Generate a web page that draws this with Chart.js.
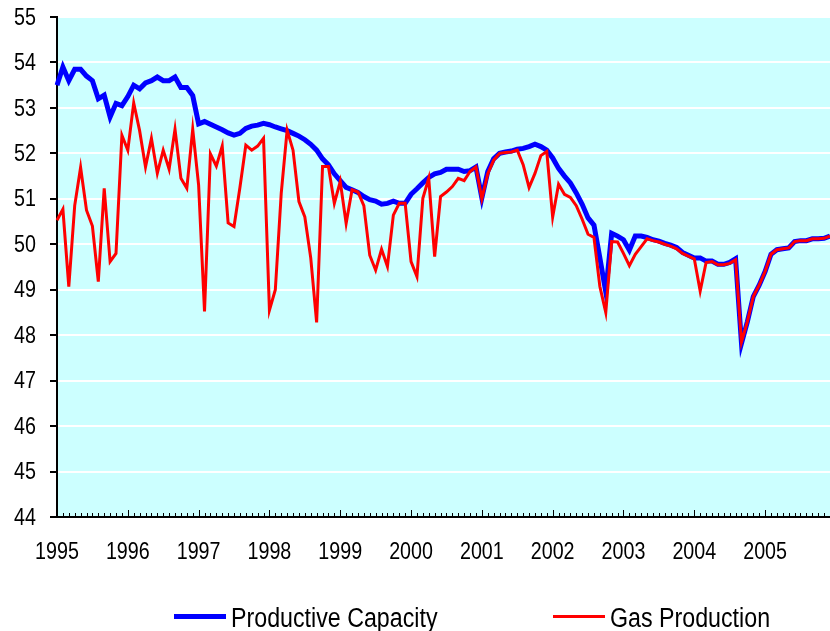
<!DOCTYPE html>
<html>
<head>
<meta charset="utf-8">
<script src="https://cdn.jsdelivr.net/npm/chart.js@4.4.1/dist/chart.umd.min.js"></script>
<style>
    body { margin: 0; background: #fff; }
    #wrap { position: relative; width: 830px; height: 631px; }
    #legend { position: absolute; left: 0; top: 602px; width: 830px; height: 31px;
              font-family: "Liberation Sans", Arial, sans-serif; font-size: 27px; color: #000; }
    .item { position: absolute; top: 0; white-space: nowrap; line-height: 31px; }
    .swatch { display: inline-block; vertical-align: middle; width: 52px; margin-right: 5px; position: relative; top: -2px; }
    .txt { display: inline-block; vertical-align: middle; transform: scaleX(0.86); transform-origin: left center; }
</style>
</head>
<body>
<div id="wrap">
    <canvas id="chart" width="830" height="631"></canvas>
    <div id="legend"></div>
</div>
<script>
var years = ['1995', '1996', '1997', '1998', '1999', '2000', '2001', '2002', '2003', '2004', '2005'];
var months = ['01', '02', '03', '04', '05', '06', '07', '08', '09', '10', '11', '12'];
var yTicks = [44, 45, 46, 47, 48, 49, 50, 51, 52, 53, 54, 55];

var capacity = [
    53.5, 53.9, 53.6, 53.85, 53.85, 53.7, 53.6, 53.2, 53.28, 52.8, 53.1, 53.05,
    53.25, 53.5, 53.42, 53.55, 53.6, 53.68, 53.6, 53.6, 53.68, 53.45, 53.45, 53.27,
    52.65, 52.7, 52.64, 52.58, 52.52, 52.45, 52.4, 52.44, 52.55, 52.6, 52.62, 52.66,
    52.63, 52.58, 52.54, 52.5, 52.44, 52.38, 52.3, 52.2, 52.07, 51.88, 51.75, 51.55,
    51.4, 51.25, 51.2, 51.14, 51.05, 50.98, 50.95, 50.88, 50.9, 50.95, 50.9, 50.9,
    51.1, 51.22, 51.35, 51.47, 51.55, 51.58, 51.65, 51.65, 51.65, 51.6, 51.62, 51.7,
    51.02, 51.6, 51.88, 52.0, 52.03, 52.05, 52.09, 52.11, 52.15, 52.2, 52.15, 52.07,
    51.9, 51.67, 51.5, 51.35, 51.13, 50.88, 50.58, 50.42, 49.7, 48.95, 50.24, 50.18,
    50.1, 49.87, 50.18, 50.18, 50.15, 50.1, 50.07, 50.02, 49.98, 49.93, 49.82, 49.76,
    49.7, 49.7, 49.63, 49.63, 49.56, 49.56, 49.6, 49.68, 47.82, 48.3, 48.85, 49.1,
    49.4, 49.78, 49.88, 49.9, 49.92, 50.06, 50.08, 50.08, 50.12, 50.12, 50.13, 50.18
];

var production = [
    50.53, 50.77, 49.07, 50.85, 51.69, 50.75, 50.4, 49.18, 51.23, 49.62, 49.8, 52.4,
    52.07, 53.11, 52.5, 51.7, 52.33, 51.56, 52.07, 51.65, 52.53, 51.45, 51.23, 52.53,
    51.3, 48.52, 51.99, 51.72, 52.16, 50.47, 50.39, 51.25, 52.18, 52.07, 52.16, 52.33,
    48.55, 49.0, 51.12, 52.51, 52.07, 50.94, 50.6, 49.7, 48.28, 51.71, 51.71, 50.9,
    51.38, 50.46, 51.2, 51.15, 50.85, 49.76, 49.43, 49.89, 49.51, 50.64, 50.9, 50.9,
    49.62, 49.29, 51.01, 51.45, 49.73, 51.05, 51.15, 51.27, 51.45, 51.4, 51.6, 51.7,
    51.0, 51.55, 51.85, 52.0, 52.02, 52.03, 52.07, 51.75, 51.25, 51.56, 51.95, 52.04,
    50.6, 51.32, 51.1, 51.03, 50.85, 50.55, 50.22, 50.15, 49.07, 48.5, 50.06, 50.05,
    49.8, 49.53, 49.78, 49.95, 50.12, 50.08, 50.05, 50.0, 49.96, 49.9, 49.8, 49.74,
    49.68, 48.97, 49.6, 49.62, 49.55, 49.55, 49.58, 49.66, 47.85, 48.3, 48.85, 49.1,
    49.4, 49.78, 49.88, 49.9, 49.92, 50.06, 50.08, 50.08, 50.12, 50.12, 50.13, 50.18
];

var seriesNames = ['Productive Capacity', 'Gas Production'];
var seriesColors = ['#0000FF', '#FF0000'];
var seriesWidths = [5, 3];

var labels = [];
years.forEach(function (y) {
    months.forEach(function (m) { labels.push(y + '-' + m); });
});

var font = '24px "Liberation Sans", Arial, sans-serif';
var squeeze = 0.82; // the original uses a narrow face

// light cyan plot area
var plotBg = {
    id: 'plotBg',
    beforeDraw: function (chart) {
        var a = chart.chartArea, ctx = chart.ctx;
        ctx.save();
        ctx.fillStyle = '#CCFFFF';
        ctx.fillRect(a.left, a.top, a.right - a.left, a.bottom - a.top);
        ctx.restore();
    }
};

function narrowText(ctx, text, x, y, align) {
    ctx.save();
    ctx.translate(x, y);
    ctx.scale(squeeze, 1);
    ctx.textAlign = align;
    ctx.fillText(text, 0, 0);
    ctx.restore();
}

// month tick marks pointing up into the plot, plus the axis labels
var axisExtras = {
    id: 'axisExtras',
    afterDraw: function (chart) {
        var xs = chart.scales.x, ys = chart.scales.y, ctx = chart.ctx;
        var bottom = chart.chartArea.bottom, left = chart.chartArea.left;
        ctx.save();
        ctx.strokeStyle = '#000';
        ctx.lineWidth = 1;
        for (var i = 0; i < labels.length; i++) {
            var x = Math.round(xs.getPixelForValue(i)) + 0.5;
            var len = (i % 12 === 0) ? 7 : 4;
            ctx.beginPath();
            ctx.moveTo(x, bottom);
            ctx.lineTo(x, bottom - len);
            ctx.stroke();
        }
        ctx.fillStyle = '#000';
        ctx.font = font;
        ctx.textBaseline = 'middle';
        for (var j = 0; j < labels.length; j += 12) {
            narrowText(ctx, labels[j].slice(0, 4), xs.getPixelForValue(j), bottom + 35, 'center');
        }
        yTicks.forEach(function (v) {
            narrowText(ctx, String(v), left - 21, ys.getPixelForValue(v) + 1, 'right');
        });
        ctx.restore();
    }
};

var datasets = [capacity, production].map(function (d, k) {
    return {
        label: seriesNames[k],
        data: d,
        borderColor: seriesColors[k],
        borderWidth: seriesWidths[k],
        pointRadius: 0,
        tension: 0,
        fill: false,
        order: 2 - k
    };
});

new Chart(document.getElementById('chart').getContext('2d'), {
    type: 'line',
    data: { labels: labels, datasets: datasets },
    plugins: [plotBg, axisExtras],
    options: {
        responsive: false,
        animation: false,
        layout: { padding: { top: 17, right: 0, left: 0, bottom: 0 } },
        plugins: { legend: { display: false }, tooltip: { enabled: false } },
        scales: {
            x: {
                type: 'category',
                offset: false,
                grid: { display: false, drawTicks: false },
                border: { display: true, color: '#000', width: 2 },
                ticks: { display: false },
                afterFit: function (s) { s.height = 114; }
            },
            y: {
                min: yTicks[0],
                max: yTicks[yTicks.length - 1],
                afterBuildTicks: function (s) { s.ticks = yTicks.map(function (v) { return { value: v }; }); },
                grid: { color: '#FFFFFF', lineWidth: 2, tickColor: '#000', tickLength: 7, tickWidth: 2 },
                border: { display: true, color: '#000', width: 2 },
                ticks: { display: false },
                afterFit: function (s) { s.width = 57; }
            }
        }
    }
});

// legend below the plot
var legend = document.getElementById('legend');
var legendX = [174, 553];
seriesNames.forEach(function (name, k) {
    var item = document.createElement('div');
    item.className = 'item';
    item.style.left = legendX[k] + 'px';
    var sw = document.createElement('span');
    sw.className = 'swatch';
    sw.style.height = seriesWidths[k] + 'px';
    sw.style.background = seriesColors[k];
    var txt = document.createElement('span');
    txt.className = 'txt';
    txt.textContent = name;
    item.appendChild(sw);
    item.appendChild(txt);
    legend.appendChild(item);
});
</script>
</body>
</html>
